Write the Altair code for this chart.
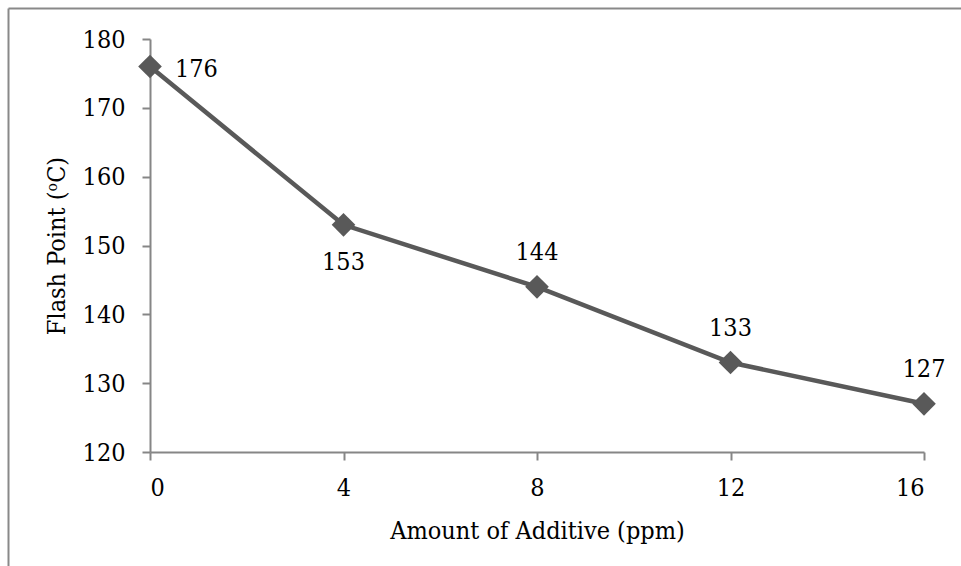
import altair as alt
import pandas as pd

additive = [0, 4, 8, 12, 16]
flash_point = [176, 153, 144, 133, 127]
x_ticks = [0, 4, 8, 12, 16]
y_ticks = [120, 130, 140, 150, 160, 170, 180]

df = pd.DataFrame({"additive": additive, "flash": flash_point, "idx": list(range(len(additive)))})

FONT = "DejaVu Serif Condensed, DejaVu Serif"
FS = 25
LINE = "#595959"
AXIS = "#868686"

W, H = 774, 413
PAD_L, PAD_T = 150, 39

x = alt.X("additive:Q",
          scale=alt.Scale(domain=[0, 16], nice=False, zero=False),
          axis=alt.Axis(values=x_ticks, title="Amount of Additive (ppm)", grid=False,
                        domainColor=AXIS, domainWidth=2, tickColor=AXIS, tickWidth=2, tickSize=8,
                        labelFont=FONT, labelFontSize=FS, labelColor="#000000", labelPadding=15,
                        labelFontWeight="normal",
                        titleFont=FONT, titleFontSize=FS, titleColor="#000000", titleFontWeight="normal",
                        titleBaseline="alphabetic", titleY=86))
y = alt.Y("flash:Q",
          scale=alt.Scale(domain=[120, 180], nice=False, zero=False),
          axis=alt.Axis(values=y_ticks, title="Flash Point (ᵒC)", grid=False,
                        domainColor=AXIS, domainWidth=2, tickColor=AXIS, tickWidth=2, tickSize=8,
                        labelFont=FONT, labelFontSize=FS, labelColor="#000000", labelPadding=17,
                        titleFont=FONT, titleFontSize=FS, titleColor="#000000", titleFontWeight="normal",
                        titleAngle=-90, titleBaseline="alphabetic", titleAlign="center",
                        titleX=-86, titleY=H / 2))

base = alt.Chart(df)

line = base.mark_line(color=LINE, strokeWidth=4.5).encode(x=x, y=y)
pts = base.mark_point(shape="diamond", filled=True, size=560, color=LINE, opacity=1).encode(x=x, y=y)

txt_kw = dict(font=FONT, fontSize=FS, color="#000000")
lab_first = base.transform_filter("datum.idx == 0").mark_text(
    align="left", baseline="middle", dx=25, dy=2, **txt_kw).encode(x=x, y=y, text="flash:Q")
lab_below = base.transform_filter("datum.idx == 1").mark_text(
    align="center", baseline="middle", dy=37, **txt_kw).encode(x=x, y=y, text="flash:Q")
lab_above = base.transform_filter("datum.idx >= 2").mark_text(
    align="center", baseline="middle", dy=-35, **txt_kw).encode(x=x, y=y, text="flash:Q")

frame_df = pd.DataFrame({"k": [0]})
frame_top = alt.Chart(frame_df).mark_rule(color="#898989", strokeWidth=2).encode(
    x=alt.value(8.5 - PAD_L), x2=alt.value(1000), y=alt.value(8.5 - PAD_T))
frame_left = alt.Chart(frame_df).mark_rule(color="#898989", strokeWidth=2).encode(
    x=alt.value(8.5 - PAD_L), y=alt.value(8.5 - PAD_T), y2=alt.value(700))

chart = alt.layer(frame_top, frame_left, line, pts, lab_first, lab_below, lab_above).properties(
    width=W, height=H,
    autosize=alt.AutoSizeParams(type="none"),
    padding={"left": PAD_L, "top": PAD_T, "right": 961 - PAD_L - W, "bottom": 566 - PAD_T - H},
    background="white",
).configure_view(stroke=None)

chart.save("out.html", embed_options={"renderer": "svg", "actions": False})
